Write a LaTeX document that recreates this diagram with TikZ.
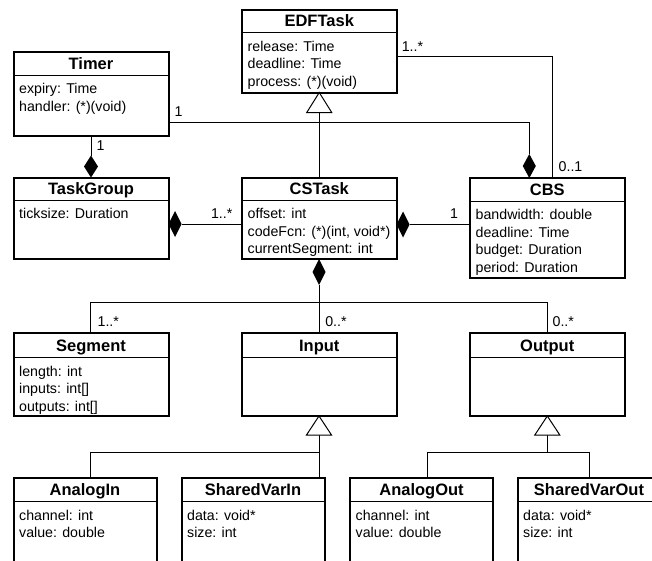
\documentclass[tikz,border=0pt]{standalone}
\usepackage{fontspec}
\setmainfont{Liberation Sans}
\usetikzlibrary{calc}
\tikzset{
  classbox/.style={draw, line width=2pt, inner sep=0pt, outer sep=0pt, fill=white},
  seprule/.style={line width=1pt},
  titletext/.style={font=\fontsize{16.5}{18}\selectfont\bfseries, anchor=base, inner sep=0pt},
  attrtext/.style={font=\fontsize{14.2}{17}\selectfont, anchor=base west, inner sep=0pt},
  conn/.style={line width=1pt},
  mult/.style={font=\fontsize{14.2}{17}\selectfont, inner sep=0pt},
  genarrow/.style={draw, fill=white, line width=1pt},
}
% #1 name, #2 left, #3 top, #4 right, #5 bottom, #6 separator, #7 title, #8 attributes
\newcommand\umlclass[8]{%
  \pgfmathsetmacro\bw{#4-#2}%
  \pgfmathsetmacro\bh{#5-#3}%
  \node[classbox, anchor=north west, minimum width=\bw pt, minimum height=\bh pt] (#1) at (#2,#3) {};
  \draw[seprule] (#2,#6) -- (#4,#6);
  \node[titletext] (#1-title) at ({(#2+#4)/2},{#6-6}) {#7};
  \foreach \a [count=\i] in {#8} {
    \node[attrtext] (#1-a\i) at ({#2+5.5},{#6+18.5+17.6*(\i-1)}) {\a};
  }
}
\begin{document}
\begin{tikzpicture}[x=1pt, y=-1pt]
\useasboundingbox (0,0) rectangle (652,560);
\fill[white] (0,0) rectangle (652,560);
\clip (0,0) rectangle (652,560);

% classes
\umlclass{timer}{13.5}{51.5}{168.5}{135.5}{75}{Timer}{expiry: Time, {handler: (*)(void)}}
\umlclass{edf}{242}{10}{396.5}{92.5}{32.5}{EDFTask}{release: Time, deadline: Time, {process: (*)(void)}}
\umlclass{tg}{13.5}{177.5}{168.5}{258.5}{200}{TaskGroup}{ticksize: Duration}
\umlclass{cs}{242}{177.5}{396.5}{259}{200}{CSTask}{offset: int, {codeFcn: (*)(int, void*)}, currentSegment: int}
\umlclass{cbs}{470}{178}{624.5}{278}{201}{CBS}{bandwidth: double, deadline: Time, budget: Duration, period: Duration}
\umlclass{seg}{13.5}{333}{168.5}{416}{357.5}{Segment}{length: int, {inputs: int[]}, {outputs: int[]}}
\umlclass{inp}{242}{333}{396.5}{416}{357.5}{Input}{}
\umlclass{outp}{470}{333}{624.5}{416}{357.5}{Output}{}
\umlclass{ain}{13.5}{477.5}{156.5}{620}{501.5}{AnalogIn}{channel: int, value: double}
\umlclass{svin}{181.5}{477.5}{324.5}{620}{501.5}{SharedVarIn}{data: void*, size: int}
\umlclass{aout}{350}{477.5}{493}{620}{501.5}{AnalogOut}{channel: int, value: double}
\umlclass{svout}{517.5}{477.5}{660.5}{620}{501.5}{SharedVarOut}{data: void*, size: int}

% Timer -- CBS (composition at CBS)
\coordinate (tcrow) at (0,122.7);
\coordinate (tccol) at (529.3,0);
\coordinate (d1) at (tccol |- cbs.north);
\fill (d1) -- ++(-6.5,-12) -- ++(6.5,-12) -- ++(6.5,12) -- cycle;
\coordinate (d1tip) at ($(d1)+(0,-24)$);
\draw[conn] (timer.east |- tcrow) -| (d1tip);
\node[mult] (m1) at (178.5,112) {1};

% EDFTask -- CBS
\coordinate (ecrow) at (0,56.7);
\coordinate (eccol) at (552.7,0);
\draw[conn] (edf.east |- ecrow) -| (eccol |- cbs.north);
\node[mult] (m2) at (412.5,47) {1..*};
\node[mult] (m3) at (570.5,166.5) {0..1};

% Timer -- TaskGroup (composition at TaskGroup)
\coordinate (d2) at (tg.north);
\fill (d2) -- ++(-7,-11) -- ++(7,-11) -- ++(7,11) -- cycle;
\draw[conn] (timer.south) -- ($(d2)+(0,-22)$);
\node[mult] (m4) at (100.5,146) {1};

% CSTask -> EDFTask generalization
\coordinate (g1) at (edf.south);
\draw[conn] (cs.north) -- ($(g1)+(0,20)$);
\draw[genarrow] (g1) -- ++(12.5,20) -- ++(-25,0) -- cycle;

% TaskGroup -- CSTask (composition at TaskGroup)
\coordinate (tgrow) at (0,224);
\coordinate (d3) at (tg.east |- tgrow);
\fill (d3) -- ++(6.5,-13) -- ++(6.5,13) -- ++(-6.5,13) -- cycle;
\draw[conn] ($(d3)+(13,0)$) -- (cs.west |- tgrow);
\node[mult] (m5) at (221.7,213.7) {1..*};

% CBS -- CSTask (composition at CSTask)
\coordinate (csrow) at (0,224.5);
\coordinate (d4) at (cs.east |- csrow);
\fill (d4) -- ++(6.5,-13) -- ++(6.5,13) -- ++(-6.5,13) -- cycle;
\draw[conn] ($(d4)+(13,0)$) -- (cbs.west |- csrow);
\node[mult] (m6) at (454,214) {1};

% CSTask -- Segment / Input / Output (composition at CSTask)
\coordinate (d5) at (319,259);
\fill (d5) -- ++(-6.5,13) -- ++(6.5,13) -- ++(6.5,-13) -- cycle;
\coordinate (busrow) at (0,302.7);
\coordinate (segcol) at (90.7,0);
\coordinate (outcol) at (547.3,0);
\draw[conn] ($(d5)+(0,26)$) -- (d5 |- busrow);
\draw[conn] (seg.north -| segcol) |- (outcol |- busrow) -- (outp.north -| outcol);
\draw[conn] (d5 |- busrow) -- (inp.north -| d5);
\node[mult] (m7) at (108.3,321.5) {1..*};
\node[mult] (m8) at (336,321.5) {0..*};
\node[mult] (m9) at (563.3,321.5) {0..*};

% Input generalization
\coordinate (g2) at (inp.south -| d5);
\coordinate (genrow) at (0,452.7);
\coordinate (aincol) at (90.7,0);
\draw[conn] ($(g2)+(0,19)$) -- (svin.north -| g2);
\draw[conn] (g2 |- genrow) -| (ain.north -| aincol);
\draw[genarrow] (g2) -- ++(12.5,19) -- ++(-25,0) -- cycle;

% Output generalization
\coordinate (g3) at (outp.south -| outcol);
\coordinate (aoutcol) at (427.3,0);
\coordinate (svoutcol) at (589.3,0);
\draw[conn] ($(g3)+(0,19)$) -- (g3 |- genrow);
\draw[conn] (aout.north -| aoutcol) |- (svoutcol |- genrow) -- (svout.north -| svoutcol);
\draw[genarrow] (g3) -- ++(12.5,19) -- ++(-25,0) -- cycle;
\end{tikzpicture}
\end{document}
